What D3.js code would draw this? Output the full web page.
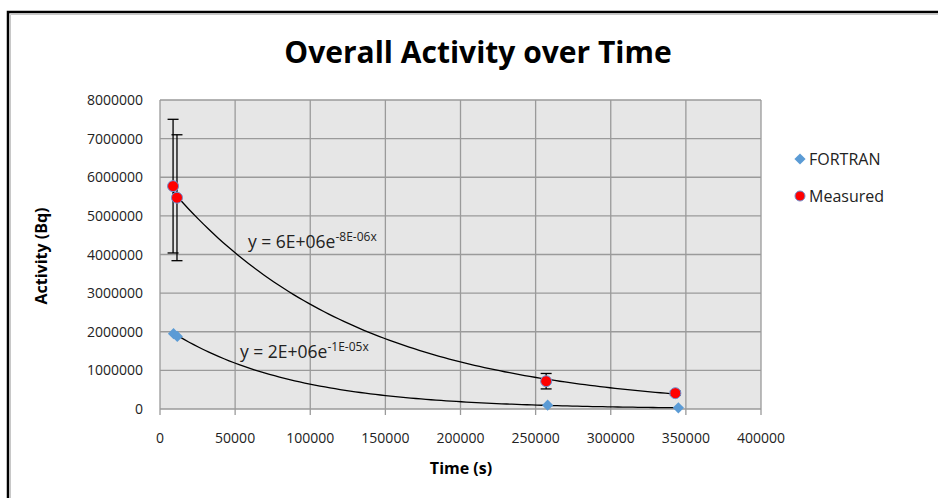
<!DOCTYPE html>
<html>
<head>
<meta charset="utf-8">
<script src="https://cdn.jsdelivr.net/npm/d3@7"></script>
<style>
  body { margin: 0; background: #fff; }
  text { font-family: "Open Sans", "Liberation Sans", sans-serif; }
</style>
</head>
<body>
<div id="chart"></div>
<script>
var width = 938,
    height = 498,
    plotLeft = 160,
    plotRight = 761,
    plotTop = 100,
    plotBottom = 409;

// data
var fortranX = [9000, 11500, 258000, 345000];
var fortranY = [1950000, 1880000, 100000, 30000];
var measuredX = [8700, 11300, 257000, 343000];
var measuredY = [5770000, 5470000, 720000, 410000];
var measuredErr = [1730000, 1630000, 200000, 50000];
var xTicks = [0, 50000, 100000, 150000, 200000, 250000, 300000, 350000, 400000];
var yTicks = [0, 1000000, 2000000, 3000000, 4000000, 5000000, 6000000, 7000000, 8000000];
var seriesNames = ["FORTRAN", "Measured"];
var fitLabels = ["y = 2E+06e", "y = 6E+06e"];
var fitExps = ["-1E-05x", "-8E-06x"];

var svg = d3.select("#chart").append("svg")
    .attr("width", width)
    .attr("height", height);

// outer frame (only top and left visible)
svg.append("path")
    .attr("d", "M8," + height + " V12 H" + width)
    .attr("fill", "none")
    .attr("stroke", "#000")
    .attr("stroke-width", 2.5);
svg.append("path")
    .attr("d", "M10.5," + height + " V14.5 H" + width)
    .attr("fill", "none")
    .attr("stroke", "#c8c8c8")
    .attr("stroke-width", 1);

var x = d3.scaleLinear().domain([0, 400000]).range([plotLeft, plotRight]);
var y = d3.scaleLinear().domain([0, 8000000]).range([plotBottom, plotTop]);

// plot area
svg.append("rect")
    .attr("x", plotLeft).attr("y", plotTop)
    .attr("width", plotRight - plotLeft).attr("height", plotBottom - plotTop)
    .attr("fill", "#e6e6e6");

svg.append("g").selectAll("line").data(xTicks).enter().append("line")
    .attr("x1", d => x(d)).attr("x2", d => x(d))
    .attr("y1", plotTop).attr("y2", plotBottom + 6)
    .attr("stroke", "#9a9a9a").attr("stroke-width", 1.3);
svg.append("g").selectAll("line").data(yTicks).enter().append("line")
    .attr("x1", plotLeft).attr("x2", plotRight)
    .attr("y1", d => y(d)).attr("y2", d => y(d))
    .attr("stroke", "#9a9a9a").attr("stroke-width", 1.3);

// tick labels
svg.append("g").selectAll("text").data(xTicks).enter().append("text")
    .attr("x", d => x(d)).attr("y", 443)
    .attr("text-anchor", "middle")
    .attr("font-size", 14).attr("fill", "#222")
    .text(d => d);
svg.append("g").selectAll("text").data(yTicks).enter().append("text")
    .attr("x", 143).attr("y", d => y(d) + 5)
    .attr("text-anchor", "end")
    .attr("font-size", 14).attr("fill", "#222")
    .text(d => d);

// axis titles
svg.append("text")
    .attr("x", 461).attr("y", 474)
    .attr("text-anchor", "middle")
    .attr("font-size", 16).attr("font-weight", "bold")
    .text("Time (s)");
svg.append("text")
    .attr("transform", "translate(47,256) rotate(-90)")
    .attr("text-anchor", "middle")
    .attr("font-size", 16).attr("font-weight", "bold")
    .text("Activity (Bq)");

// title
svg.append("text")
    .attr("x", 478).attr("y", 63)
    .attr("text-anchor", "middle")
    .attr("font-size", 30).attr("font-weight", "bold")
    .text("Overall Activity over Time");

// exponential trendlines (least squares on ln y, like Excel)
function expFit(xs, ys) {
    var lx = xs, ly = ys.map(Math.log);
    var mx = d3.mean(lx), my = d3.mean(ly);
    var sxy = d3.sum(lx, (v, i) => (v - mx) * (ly[i] - my));
    var sxx = d3.sum(lx, v => (v - mx) * (v - mx));
    var b = sxy / sxx;
    return {a: Math.exp(my - b * mx), b: b};
}
var line = d3.line().x(d => x(d[0])).y(d => y(d[1])).curve(d3.curveLinear);
[[fortranX, fortranY], [measuredX, measuredY]].forEach(function(s) {
    var f = expFit(s[0], s[1]);
    var x0 = d3.min(s[0]), x1 = d3.max(s[0]);
    var pts = d3.range(0, 101).map(i => {
        var xv = x0 + (x1 - x0) * i / 100;
        return [xv, f.a * Math.exp(f.b * xv)];
    });
    svg.append("path").attr("d", line(pts))
        .attr("fill", "none").attr("stroke", "#000").attr("stroke-width", 1.3);
});

// fit labels
var labelPos = [[240, 358], [248, 248]];
fitLabels.forEach(function(t, i) {
    var tx = svg.append("text")
        .attr("x", labelPos[i][0]).attr("y", labelPos[i][1])
        .attr("font-size", 17.5).attr("fill", "#222");
    tx.append("tspan").text(t);
    tx.append("tspan").attr("dy", -7).attr("font-size", 12).text(fitExps[i]);
});

// error bars
var err = svg.append("g").selectAll("g")
    .data(measuredX.map((d, i) => [d, measuredY[i], measuredErr[i]]))
    .enter().append("g").attr("stroke", "#000").attr("stroke-width", 1.3);
err.append("line")
    .attr("x1", d => x(d[0])).attr("x2", d => x(d[0]))
    .attr("y1", d => y(d[1] + d[2])).attr("y2", d => y(d[1] - d[2]));
err.append("line")
    .attr("x1", d => x(d[0]) - 5.5).attr("x2", d => x(d[0]) + 5.5)
    .attr("y1", d => y(d[1] + d[2])).attr("y2", d => y(d[1] + d[2]));
err.append("line")
    .attr("x1", d => x(d[0]) - 5.5).attr("x2", d => x(d[0]) + 5.5)
    .attr("y1", d => y(d[1] - d[2])).attr("y2", d => y(d[1] - d[2]));

// markers
var diamond = d3.symbol().type(d3.symbolDiamond2).size(80);
svg.append("g").selectAll("path")
    .data(fortranX.map((d, i) => [d, fortranY[i]]))
    .enter().append("path")
    .attr("d", diamond)
    .attr("transform", d => "translate(" + x(d[0]) + "," + y(d[1]) + ")")
    .attr("fill", "#5b9bd5");
svg.append("g").selectAll("circle")
    .data(measuredX.map((d, i) => [d, measuredY[i]]))
    .enter().append("circle")
    .attr("cx", d => x(d[0])).attr("cy", d => y(d[1]))
    .attr("r", 5.5)
    .attr("fill", "#ff0000").attr("stroke", "#6f8fd0").attr("stroke-width", 1);

// legend
var legend = svg.append("g");
legend.append("path")
    .attr("d", d3.symbol().type(d3.symbolDiamond2).size(80))
    .attr("transform", "translate(800,159)")
    .attr("fill", "#5b9bd5");
legend.append("circle")
    .attr("cx", 800).attr("cy", 196).attr("r", 5)
    .attr("fill", "#ff0000").attr("stroke", "#6f8fd0").attr("stroke-width", 1);
legend.selectAll("text").data(seriesNames).enter().append("text")
    .attr("x", 809).attr("y", (d, i) => 165 + i * 37)
    .attr("font-size", 16).attr("fill", "#222")
    .text(d => d);
</script>
</body>
</html>
